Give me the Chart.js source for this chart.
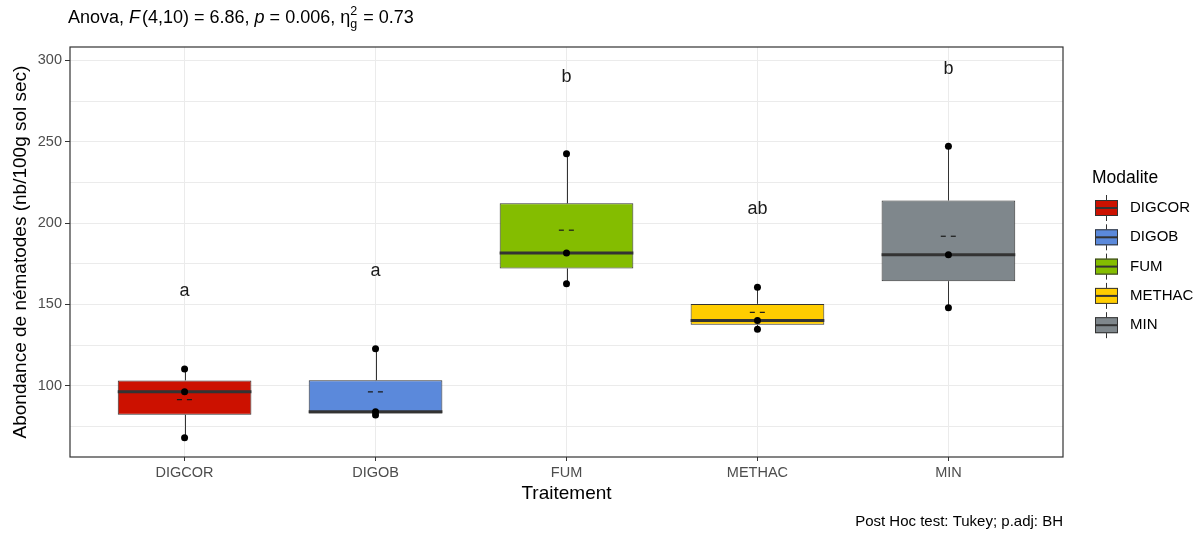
<!DOCTYPE html>
<html>
<head>
<meta charset="utf-8">
<script src="https://cdn.jsdelivr.net/npm/chart.js@4.4.0/dist/chart.umd.min.js"></script>
<style>
  html, body { margin: 0; padding: 0; background: #fff; }
  #wrap { width: 1199px; height: 533px; }
</style>
</head>
<body>
<div id="wrap"><canvas id="graficoBox" width="1199" height="533"></canvas></div>
<script>
const categorias = ['DIGCOR', 'DIGOB', 'FUM', 'METHAC', 'MIN'];
const valoresDIGCOR = [68.0, 96.3, 110.3];
const valoresDIGOB = [82.0, 84.0, 122.8];
const valoresFUM = [162.7, 181.6, 242.7];
const valoresMETHAC = [134.7, 140.2, 160.5];
const valoresMIN = [148.0, 180.6, 247.2];
const letras = ['a', 'a', 'b', 'ab', 'b'];
const alturaLetras = [155.2, 167.5, 287.0, 205.4, 291.7];
const ticksY = [75, 100, 125, 150, 175, 200, 225, 250, 275, 300];
const ticksYPrincipais = [100, 150, 200, 250, 300];
const cores = ['#CC1100', '#5B89DB', '#84BD00', '#FFCD00', '#7F878C'];

const FONTE = "'Liberation Sans', Arial, sans-serif";
const grupos = [valoresDIGCOR, valoresDIGOB, valoresFUM, valoresMETHAC, valoresMIN];

// quantil tipo 7 (padrao do R)
function quantil(arr, p) {
    const s = [...arr].sort((a, b) => a - b);
    const h = (s.length - 1) * p;
    const lo = Math.floor(h);
    const hi = Math.min(lo + 1, s.length - 1);
    return s[lo] + (h - lo) * (s[hi] - s[lo]);
}

const resumo = grupos.map(v => {
    const q1 = quantil(v, 0.25), q3 = quantil(v, 0.75), iqr = q3 - q1;
    const dentro = v.filter(x => x >= q1 - 1.5 * iqr && x <= q3 + 1.5 * iqr);
    return {
        q1, q3,
        mediana: quantil(v, 0.5),
        media: v.reduce((a, b) => a + b, 0) / v.length,
        min: Math.min(...dentro),
        max: Math.max(...dentro)
    };
});

const pontos = [];
grupos.forEach((v, i) => v.forEach(y => pontos.push({ x: i + 1, y })));

const extrasBoxplot = {
    id: 'extrasBoxplot',
    beforeDatasetDraw(chart, args) {
        if (args.index !== 0) return;
        const { ctx, scales: { x, y } } = chart;
        ctx.save();
        ctx.strokeStyle = '#333333';
        ctx.lineWidth = 1;
        resumo.forEach((r, i) => {
            const px = Math.round(x.getPixelForValue(i + 1)) + 0.5;
            ctx.beginPath();
            ctx.moveTo(px, y.getPixelForValue(r.max));
            ctx.lineTo(px, y.getPixelForValue(r.q3));
            ctx.moveTo(px, y.getPixelForValue(r.q1));
            ctx.lineTo(px, y.getPixelForValue(r.min));
            ctx.stroke();
        });
        ctx.restore();
    },
    afterDatasetDraw(chart, args) {
        if (args.index !== 0) return;
        const { ctx, scales: { x, y } } = chart;
        ctx.save();
        resumo.forEach((r, i) => {
            // mediana
            ctx.strokeStyle = '#333333';
            ctx.lineWidth = 3;
            ctx.beginPath();
            ctx.moveTo(x.getPixelForValue(i + 1 - 0.35), y.getPixelForValue(r.mediana));
            ctx.lineTo(x.getPixelForValue(i + 1 + 0.35), y.getPixelForValue(r.mediana));
            ctx.stroke();
            // media tracejada
            ctx.strokeStyle = '#1a1a1a';
            ctx.lineWidth = 1.2;
            ctx.setLineDash([5, 5]);
            ctx.beginPath();
            ctx.moveTo(x.getPixelForValue(i + 1 - 0.04), y.getPixelForValue(r.media));
            ctx.lineTo(x.getPixelForValue(i + 1 + 0.04), y.getPixelForValue(r.media));
            ctx.stroke();
            ctx.setLineDash([]);
        });
        ctx.restore();
    },
    afterDraw(chart) {
        const { ctx, chartArea: a, scales: { x, y } } = chart;
        ctx.save();
        // borda do painel
        ctx.strokeStyle = '#333333';
        ctx.lineWidth = 1.2;
        ctx.strokeRect(a.left, a.top, a.right - a.left, a.bottom - a.top);

        // letras do post hoc
        ctx.fillStyle = '#1a1a1a';
        ctx.font = `18px ${FONTE}`;
        ctx.textAlign = 'center';
        ctx.textBaseline = 'alphabetic';
        letras.forEach((l, i) => {
            ctx.fillText(l, x.getPixelForValue(i + 1), y.getPixelForValue(alturaLetras[i]));
        });

        // titulos dos eixos
        ctx.fillStyle = '#000';
        ctx.font = `19px ${FONTE}`;
        ctx.textBaseline = 'middle';
        ctx.fillText('Traitement', (a.left + a.right) / 2, 494);
        ctx.save();
        ctx.translate(21, (a.top + a.bottom) / 2);
        ctx.rotate(-Math.PI / 2);
        ctx.fillText('Abondance de nématodes (nb/100g sol sec)', 0, 0);
        ctx.restore();

        // subtitulo com a anova
        ctx.textAlign = 'left';
        ctx.textBaseline = 'alphabetic';
        let cx = 68;
        const base = 23;
        const pedaco = (txt, fonte, dy = 0) => {
            ctx.font = fonte;
            ctx.fillText(txt, cx, base + dy);
            cx += ctx.measureText(txt).width;
        };
        const normal = `18px ${FONTE}`, italico = `italic 18px ${FONTE}`, pequeno = `12.5px ${FONTE}`;
        pedaco('Anova, ', normal);
        pedaco('F', italico);
        cx += 2;
        pedaco('(4,10) = 6.86, ', normal);
        pedaco('p', italico);
        pedaco(' = 0.006, ', normal);
        pedaco('η', normal);
        ctx.font = pequeno;
        ctx.fillText('2', cx, base - 8);
        ctx.fillText('g', cx, base + 5);
        cx += ctx.measureText('g').width + 1;
        pedaco(' = 0.73', normal);

        // legenda
        ctx.font = `17.5px ${FONTE}`;
        ctx.fillText('Modalite', 1092, 183);
        const passo = 29.3;
        categorias.forEach((c, i) => {
            const cy = 208 + i * passo;
            ctx.strokeStyle = '#333333';
            ctx.lineWidth = 1;
            ctx.beginPath();
            ctx.moveTo(1106.5, cy - 13);
            ctx.lineTo(1106.5, cy + 13);
            ctx.stroke();
            ctx.fillStyle = cores[i];
            ctx.fillRect(1095, cy - 8, 23, 16);
            ctx.strokeRect(1095.5, cy - 7.5, 22, 15);
            ctx.lineWidth = 2;
            ctx.beginPath();
            ctx.moveTo(1095, cy);
            ctx.lineTo(1118, cy);
            ctx.stroke();
            ctx.fillStyle = '#000';
            ctx.font = `15px ${FONTE}`;
            ctx.textBaseline = 'middle';
            ctx.fillText(c, 1130, cy);
            ctx.textBaseline = 'alphabetic';
        });

        // legenda inferior
        ctx.textAlign = 'right';
        ctx.font = `15px ${FONTE}`;
        ctx.fillText('Post Hoc test: Tukey; p.adj: BH', a.right, 526);
        ctx.restore();
    }
};

new Chart(document.getElementById('graficoBox'), {
    type: 'bar',
    data: {
        datasets: [{
            label: 'Caixa',
            data: resumo.map((r, i) => ({ x: i + 1, y: [r.q1, r.q3] })),
            backgroundColor: cores,
            borderColor: '#333333',
            borderWidth: 1,
            borderSkipped: false,
            categoryPercentage: 1,
            barPercentage: 0.7,
            order: 2
        }, {
            type: 'line',
            label: 'Pontos',
            data: pontos,
            showLine: false,
            pointRadius: 3.5,
            pointBackgroundColor: '#000',
            pointBorderWidth: 0,
            order: 1
        }]
    },
    options: {
        responsive: false,
        animation: false,
        layout: { padding: { top: 47, right: 136, bottom: 0, left: 0 } },
        plugins: { legend: { display: false }, tooltip: { enabled: false }, title: { display: false } },
        scales: {
            x: {
                type: 'linear',
                min: 0.4,
                max: 5.6,
                offset: false,
                afterFit: s => { s.height = 76; },
                afterBuildTicks: s => { s.ticks = categorias.map((c, i) => ({ value: i + 1 })); },
                grid: { offset: false, color: '#EBEBEB', lineWidth: 1, tickColor: '#333333', tickLength: 4 },
                border: { display: false },
                ticks: {
                    autoSkip: false,
                    maxRotation: 0,
                    padding: 3,
                    color: '#4D4D4D',
                    font: { family: FONTE, size: 14.5 },
                    callback: v => categorias[v - 1]
                }
            },
            y: {
                min: 56.2,
                max: 308.3,
                afterFit: s => { s.width = 70; },
                afterBuildTicks: s => { s.ticks = ticksY.map(v => ({ value: v })); },
                grid: {
                    color: '#EBEBEB',
                    lineWidth: 1,
                    tickLength: 5,
                    tickColor: c => ticksYPrincipais.includes(c.tick.value) ? '#333333' : 'rgba(0,0,0,0)'
                },
                border: { display: false },
                ticks: {
                    padding: 3,
                    color: '#4D4D4D',
                    font: { family: FONTE, size: 14.5 },
                    callback: v => ticksYPrincipais.includes(v) ? String(v) : ''
                }
            }
        }
    },
    plugins: [extrasBoxplot]
});
</script>
</body>
</html>
